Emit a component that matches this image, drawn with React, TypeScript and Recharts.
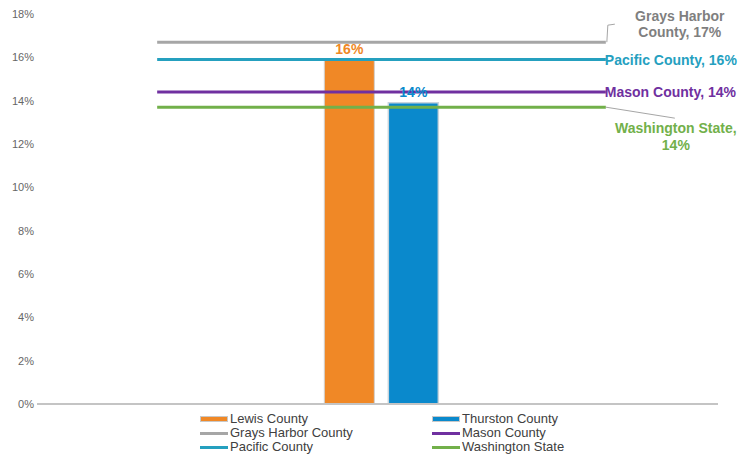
import { Bar, ComposedChart, Line, XAxis, YAxis, LabelList } from "recharts";

const categories = ["start", "region", "end"];
const lewisCounty = [null, 15.9, null];
const thurstonCounty = [null, 13.9, null];
const graysHarbor = [16.7, 16.7, 16.7];
const pacificCounty = [15.9, 15.9, 15.9];
const masonCounty = [14.4, 14.4, 14.4];
const washingtonState = [13.7, 13.7, 13.7];
const yTicks = [0, 2, 4, 6, 8, 10, 12, 14, 16, 18];

const data = categories.map((cat, i) => ({
  cat,
  lewis: lewisCounty[i],
  thurston: thurstonCounty[i],
  grays: graysHarbor[i],
  pacific: pacificCounty[i],
  mason: masonCounty[i],
  wa: washingtonState[i],
}));

const last = categories.length - 1;
const font = "Liberation Sans, Arial, sans-serif";
const pct = (v: number) => `${Math.round(v)}%`;

const C = {
  orange: "#f08826",
  blue: "#0a89cc",
  gray: "#a6a6a6",
  teal: "#25a0bf",
  purple: "#7030a0",
  green: "#72b04a",
};

function GraysLabel(p: any) {
  if (p.index !== last) return null;
  const { x, y, value } = p;
  return (
    <g fontFamily={font} fontWeight="bold" fontSize={14} fill="#7f7f7f">
      <polyline points={`${x + 1},${y} ${x + 2},${y - 17} ${x + 9},${y - 18}`} fill="none" stroke="#a6a6a6" strokeWidth={1} />
      <text x={x + 74} y={y - 21} textAnchor="middle">Grays Harbor</text>
      <text x={x + 74} y={y - 5} textAnchor="middle">{`County, ${pct(value)}`}</text>
    </g>
  );
}

function PacificLabel(p: any) {
  if (p.index !== last) return null;
  return (
    <text x={p.x - 1} y={p.y + 5} fontFamily={font} fontWeight="bold" fontSize={14} fill={C.teal}>
      {`Pacific County, ${pct(p.value)}`}
    </text>
  );
}

function MasonLabel(p: any) {
  if (p.index !== last) return null;
  return (
    <text x={p.x - 1} y={p.y + 5} fontFamily={font} fontWeight="bold" fontSize={14} fill={C.purple}>
      {`Mason County, ${pct(p.value)}`}
    </text>
  );
}

function WaLabel(p: any) {
  if (p.index !== last) return null;
  const { x, y, value } = p;
  return (
    <g fontFamily={font} fontWeight="bold" fontSize={14} fill={C.green}>
      <line x1={x} y1={y} x2={x + 69} y2={y + 11} stroke="#a6a6a6" strokeWidth={1} />
      <text x={x + 70} y={y + 26} textAnchor="middle">Washington State,</text>
      <text x={x + 70} y={y + 43} textAnchor="middle">{pct(value)}</text>
    </g>
  );
}

const legendItems = [
  { name: "Lewis County", color: C.orange, bar: true },
  { name: "Thurston County", color: C.blue, bar: true },
  { name: "Grays Harbor County", color: C.gray, bar: false },
  { name: "Mason County", color: C.purple, bar: false },
  { name: "Pacific County", color: C.teal, bar: false },
  { name: "Washington State", color: C.green, bar: false },
];

function ChartLegend() {
  return (
    <div
      style={{
        position: "absolute",
        left: 200,
        top: 412,
        display: "grid",
        gridTemplateColumns: "232px 200px",
        fontFamily: font,
        fontSize: 13,
        color: "#404040",
        lineHeight: "14px",
      }}
    >
      {legendItems.map((it) => (
        <div key={it.name} style={{ display: "flex", alignItems: "center" }}>
          <span
            style={{
              display: "inline-block",
              width: 28,
              height: it.bar ? 6 : 3,
              background: it.color,
              border: it.bar ? "1px solid #c8c8c8" : "none",
              boxSizing: "border-box",
              marginRight: 2,
            }}
          />
          {it.name}
        </div>
      ))}
    </div>
  );
}

export default function App() {
  return (
    <div style={{ position: "absolute", left: 0, top: 0, width: 743, height: 456, background: "#fff" }}>
      <ComposedChart width={743} height={456} data={data} margin={{ top: 14, right: 25, bottom: 51, left: 0 }} barGap={14}>
        <XAxis dataKey="cat" tick={false} tickLine={false} axisLine={{ stroke: "#c4c4c4", strokeWidth: 2 }} padding={{ left: 8, right: 0 }} height={1} />
        <YAxis
          domain={[0, 18]}
          ticks={yTicks}
          tickFormatter={(v) => `${v}%`}
          axisLine={false}
          tickLine={false}
          tickSize={0}
          tickMargin={3}
          width={37}
          tick={{ fill: "#666666", fontSize: 11, fontFamily: font }}
          interval={0}
        />
        <Bar dataKey="lewis" fill={C.orange} stroke="#d0d0d0" strokeWidth={1} barSize={50} isAnimationActive={false}>
          <LabelList dataKey="lewis" position="top" offset={6} formatter={(v: any) => pct(v)} style={{ fill: C.orange, fontWeight: "bold", fontSize: 14, fontFamily: font }} />
        </Bar>
        <Bar dataKey="thurston" fill={C.blue} stroke="#c8d4dc" strokeWidth={1.5} barSize={50} isAnimationActive={false}>
          <LabelList dataKey="thurston" position="top" offset={6} formatter={(v: any) => pct(v)} style={{ fill: C.blue, fontWeight: "bold", fontSize: 14, fontFamily: font }} />
        </Bar>
        <Line dataKey="grays" stroke={C.gray} strokeWidth={3} dot={false} isAnimationActive={false} label={GraysLabel} />
        <Line dataKey="pacific" stroke={C.teal} strokeWidth={3} dot={false} isAnimationActive={false} label={PacificLabel} />
        <Line dataKey="mason" stroke={C.purple} strokeWidth={3} dot={false} isAnimationActive={false} label={MasonLabel} />
        <Line dataKey="wa" stroke={C.green} strokeWidth={3} dot={false} isAnimationActive={false} label={WaLabel} />
      </ComposedChart>
      <ChartLegend />
    </div>
  );
}
